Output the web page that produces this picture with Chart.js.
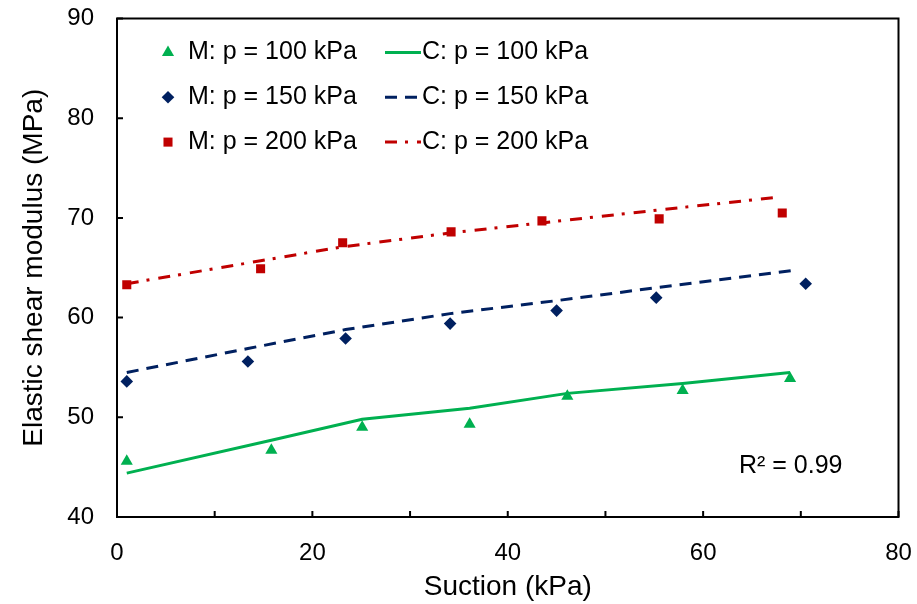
<!DOCTYPE html>
<html>
<head>
<meta charset="utf-8">
<title>Elastic shear modulus vs suction</title>
<script src="https://cdn.jsdelivr.net/npm/chart.js@4.4.1/dist/chart.umd.min.js"></script>
<style>
  html, body { margin: 0; padding: 0; background: #fff; }
  #wrap { width: 917px; height: 604px; position: relative; }
</style>
</head>
<body>
<div id="wrap"><canvas id="chart"></canvas></div>
<script>
const FONT = "'Liberation Sans', Arial, sans-serif";
const GREEN = "#00B050";
const NAVY = "#002060";
const RED = "#C00000";

const suction100 = [1.0, 15.8, 25.1, 36.1, 46.1, 57.9, 68.9];
const measured100 = [45.6, 46.7, 49.0, 49.3, 52.1, 52.7, 53.9];
const suction150 = [1.0, 13.4, 23.4, 34.1, 45.0, 55.2, 70.5];
const measured150 = [53.6, 55.6, 57.9, 59.4, 60.7, 62.0, 63.4];
const suction200 = [1.0, 14.7, 23.1, 34.2, 43.5, 55.5, 68.1];
const measured200 = [63.3, 64.9, 67.5, 68.6, 69.7, 69.9, 70.5];

// calculated curves (C)
const calcX100 = [1.0, 15.8, 25.1, 36.1, 46.1, 57.9, 68.9];
const calc100 = [44.4, 47.7, 49.8, 50.9, 52.4, 53.4, 54.5];
const calcX150 = [1.0, 13.4, 23.4, 34.1, 45.0, 55.2, 69.7];
const calc150 = [54.5, 56.9, 58.8, 60.4, 61.7, 63.0, 64.8];
const calcX200 = [1.0, 14.7, 23.1, 34.2, 43.5, 55.5, 67.9];
const calc200 = [63.4, 65.7, 67.1, 68.5, 69.5, 70.8, 72.1];

const xTicks = [0, 10, 20, 30, 40, 50, 60, 70, 80];
const yTicks = [40, 50, 60, 70, 80, 90];
const fitNote = "R\u00B2 = 0.99";

const pts = (xs, ys) => xs.map((x, i) => ({ x, y: ys[i] }));

function drawMarker(ctx, style, r, x, y, color) {
  ctx.fillStyle = color;
  ctx.beginPath();
  if (style === "triangle") {
    ctx.moveTo(x, y - r);
    ctx.lineTo(x + r * Math.sin(Math.PI / 3), y + r / 2);
    ctx.lineTo(x - r * Math.sin(Math.PI / 3), y + r / 2);
  } else if (style === "rectRot") {
    ctx.moveTo(x - r, y);
    ctx.lineTo(x, y - r);
    ctx.lineTo(x + r, y);
    ctx.lineTo(x, y + r);
  } else {
    const s = Math.SQRT1_2 * r;
    ctx.rect(x - s, y - s, 2 * s, 2 * s);
  }
  ctx.closePath();
  ctx.fill();
}

// box round the plot and inner tick marks
const frame = {
  id: "frame",
  afterDraw(chart) {
    const { ctx, chartArea: a } = chart;
    const { x, y } = chart.scales;
    ctx.save();
    ctx.strokeStyle = "#000";
    ctx.lineWidth = 2;
    ctx.strokeRect(a.left, a.top, a.right - a.left, a.bottom - a.top);
    ctx.beginPath();
    xTicks.forEach((v) => {
      const px = x.getPixelForValue(v);
      ctx.moveTo(px, a.bottom);
      ctx.lineTo(px, a.bottom - 6);
    });
    yTicks.forEach((v) => {
      const py = y.getPixelForValue(v);
      ctx.moveTo(a.left, py);
      ctx.lineTo(a.left + 6, py);
    });
    ctx.stroke();
    ctx.restore();
  },
};

// two column legend inside the plot, plus the R² note
const legendBox = {
  id: "legendBox",
  afterDraw(chart) {
    const ctx = chart.ctx;
    const ds = chart.data.datasets;
    ctx.save();
    ctx.font = "25px " + FONT;
    ctx.textBaseline = "middle";
    for (let i = 0; i < 3; i++) {
      const yy = 52.5 + i * 44.8;
      const m = ds[i];
      const c = ds[i + 3];
      drawMarker(ctx, m.pointStyle, m.pointRadius, 168, yy, m.backgroundColor);
      ctx.fillStyle = "#000";
      ctx.fillText(m.label, 188, yy);
      ctx.strokeStyle = c.borderColor;
      ctx.lineWidth = c.borderWidth;
      ctx.setLineDash(c.borderDash || []);
      ctx.beginPath();
      ctx.moveTo(385, yy);
      ctx.lineTo(421, yy);
      ctx.stroke();
      ctx.setLineDash([]);
      ctx.fillText(c.label, 422, yy);
    }
    ctx.fillText(fitNote, 739, 466);
    ctx.restore();
  },
};

const tickFont = { size: 24, family: FONT };
const titleFont = { size: 28, family: FONT };

new Chart(document.getElementById("chart"), {
  type: "scatter",
  data: {
    datasets: [
      { label: "M: p = 100 kPa", data: pts(suction100, measured100), pointStyle: "triangle", pointRadius: 7, backgroundColor: GREEN, borderColor: GREEN, pointBorderWidth: 0 },
      { label: "M: p = 150 kPa", data: pts(suction150, measured150), pointStyle: "rectRot", pointRadius: 6.3, backgroundColor: NAVY, borderColor: NAVY, pointBorderWidth: 0 },
      { label: "M: p = 200 kPa", data: pts(suction200, measured200), pointStyle: "rect", pointRadius: 6.4, backgroundColor: RED, borderColor: RED, pointBorderWidth: 0 },
      { label: "C: p = 100 kPa", data: pts(calcX100, calc100), showLine: true, pointRadius: 0, borderColor: GREEN, borderWidth: 3, borderDash: [] },
      { label: "C: p = 150 kPa", data: pts(calcX150, calc150), showLine: true, pointRadius: 0, borderColor: NAVY, borderWidth: 3, borderDash: [12, 8] },
      { label: "C: p = 200 kPa", data: pts(calcX200, calc200), showLine: true, pointRadius: 0, borderColor: RED, borderWidth: 3, borderDash: [12, 8, 3, 9] },
    ],
  },
  options: {
    responsive: true,
    maintainAspectRatio: false,
    animation: false,
    layout: { padding: 0 },
    plugins: { legend: { display: false }, tooltip: { enabled: false } },
    scales: {
      x: {
        type: "linear",
        min: 0,
        max: 80,
        ticks: { stepSize: 20, padding: 22, color: "#000", font: tickFont },
        grid: { display: false, drawTicks: false, tickLength: 0 },
        border: { display: false },
        title: { display: true, text: "Suction (kPa)", color: "#000", font: titleFont, padding: { top: 0, bottom: 0 } },
        afterFit(s) {
          s.height = 87;
          s.paddingLeft = 0;
          s.paddingRight = 18.5;
        },
      },
      y: {
        min: 40,
        max: 90,
        ticks: { stepSize: 10, padding: 23, color: "#000", font: tickFont },
        grid: { display: false, drawTicks: false, tickLength: 0 },
        border: { display: false },
        title: { display: true, text: "Elastic shear modulus (MPa)", color: "#000", font: titleFont, padding: { top: 17, bottom: 0 } },
        afterFit(s) {
          s.width = 117;
          s.paddingTop = 18.5;
          s.paddingBottom = 0;
        },
      },
    },
  },
  plugins: [frame, legendBox],
});
</script>
</body>
</html>
